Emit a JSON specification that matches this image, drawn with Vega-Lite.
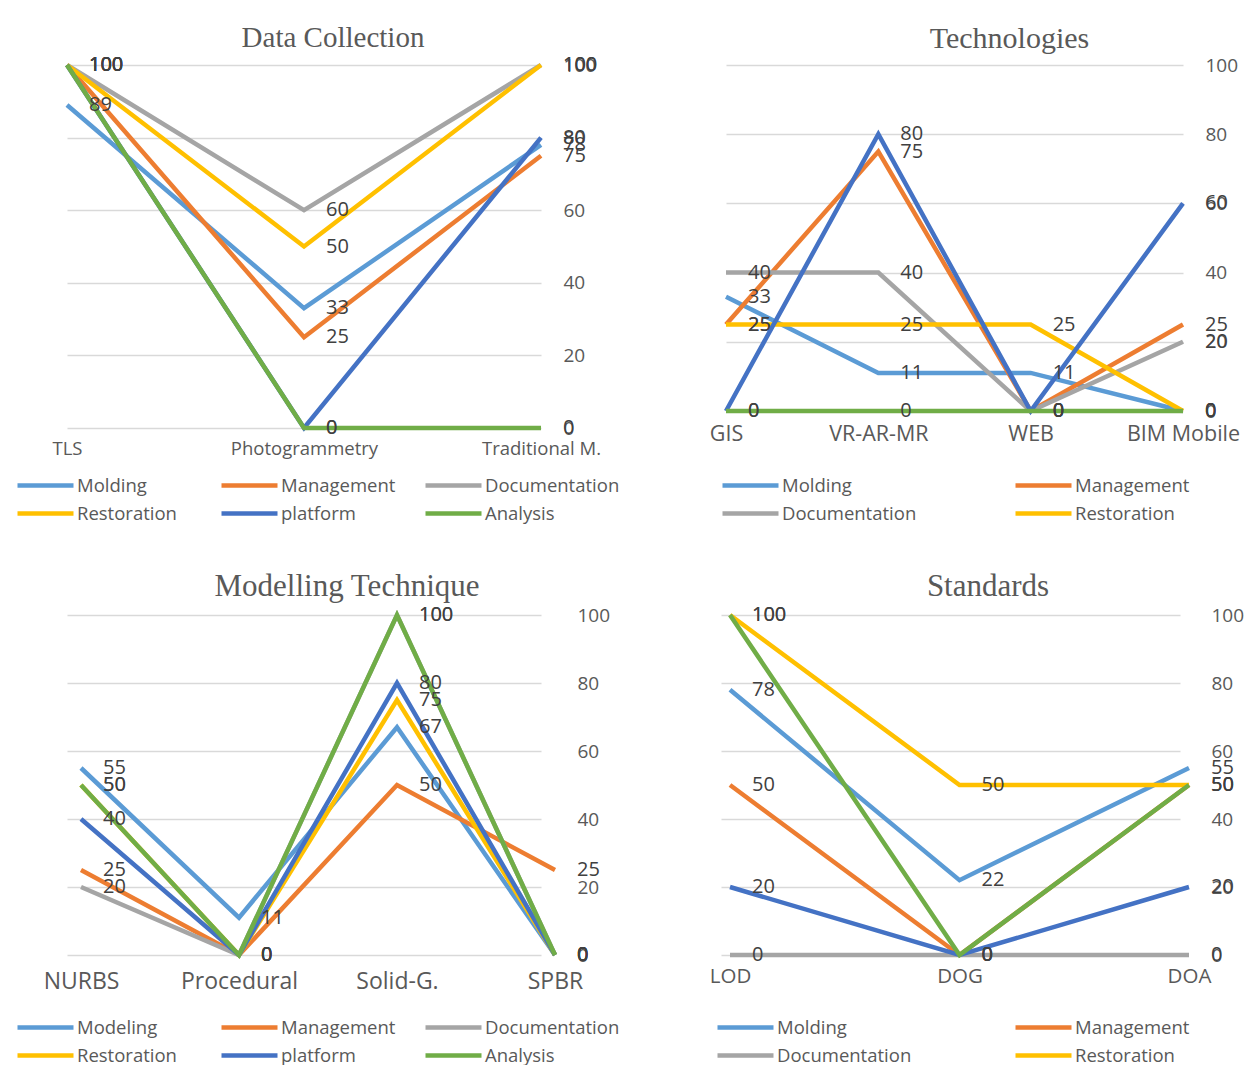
{
  "$schema": "https://vega.github.io/schema/vega-lite/v6.json",
  "background": "white",
  "padding": {"left": 43, "top": 24, "right": 0, "bottom": 0},
  "config": {
    "font": "Open Sans",
    "view": {"stroke": null},
    "axis": {"labelFont": "Open Sans", "labelColor": "#595959", "domain": false, "ticks": false, "labelOverlap": false, "labelLimit": 0},
    "axisY": {"grid": true, "gridColor": "#d9d9d9", "gridWidth": 1.5, "labelFontSize": 19, "labelPadding": 22},
    "axisX": {"grid": false, "labelAngle": 0},
    "legend": {"orient": "none", "direction": "horizontal", "symbolType": "M-6,0H2", "symbolStrokeWidth": 5, "symbolSize": 196, "labelFont": "Open Sans", "labelFontSize": 18.5, "labelColor": "#595959", "labelOffset": 8, "gridAlign": "all", "rowPadding": 9, "padding": 0, "title": null, "labelLimit": 0},
    "title": {"font": "Liberation Serif", "fontWeight": "normal", "color": "#595959", "anchor": "middle", "offset": 2},
    "line": {"strokeWidth": 4.5},
    "text": {"font": "Open Sans", "fontSize": 20, "color": "#404040", "align": "left", "baseline": "middle", "dx": 22}
  },
  "datasets": {
    "dc": [
      {"cat": "TLS", "series": "Molding", "value": 89},
      {"cat": "Photogrammetry", "series": "Molding", "value": 33},
      {"cat": "Traditional M.", "series": "Molding", "value": 78},
      {"cat": "TLS", "series": "Management", "value": 100},
      {"cat": "Photogrammetry", "series": "Management", "value": 25},
      {"cat": "Traditional M.", "series": "Management", "value": 75},
      {"cat": "TLS", "series": "Documentation", "value": 100},
      {"cat": "Photogrammetry", "series": "Documentation", "value": 60},
      {"cat": "Traditional M.", "series": "Documentation", "value": 100},
      {"cat": "TLS", "series": "Restoration", "value": 100},
      {"cat": "Photogrammetry", "series": "Restoration", "value": 50},
      {"cat": "Traditional M.", "series": "Restoration", "value": 100},
      {"cat": "TLS", "series": "platform", "value": 100},
      {"cat": "Photogrammetry", "series": "platform", "value": 0},
      {"cat": "Traditional M.", "series": "platform", "value": 80},
      {"cat": "TLS", "series": "Analysis", "value": 100},
      {"cat": "Photogrammetry", "series": "Analysis", "value": 0},
      {"cat": "Traditional M.", "series": "Analysis", "value": 0}
    ],
    "tech": [
      {"cat": "GIS", "series": "Molding", "value": 33},
      {"cat": "VR-AR-MR", "series": "Molding", "value": 11},
      {"cat": "WEB", "series": "Molding", "value": 11},
      {"cat": "BIM Mobile", "series": "Molding", "value": 0},
      {"cat": "GIS", "series": "Management", "value": 25},
      {"cat": "VR-AR-MR", "series": "Management", "value": 75},
      {"cat": "WEB", "series": "Management", "value": 0},
      {"cat": "BIM Mobile", "series": "Management", "value": 25},
      {"cat": "GIS", "series": "Documentation", "value": 40},
      {"cat": "VR-AR-MR", "series": "Documentation", "value": 40},
      {"cat": "WEB", "series": "Documentation", "value": 0},
      {"cat": "BIM Mobile", "series": "Documentation", "value": 20},
      {"cat": "GIS", "series": "Restoration", "value": 25},
      {"cat": "VR-AR-MR", "series": "Restoration", "value": 25},
      {"cat": "WEB", "series": "Restoration", "value": 25},
      {"cat": "BIM Mobile", "series": "Restoration", "value": 0},
      {"cat": "GIS", "series": "platform", "value": 0},
      {"cat": "VR-AR-MR", "series": "platform", "value": 80},
      {"cat": "WEB", "series": "platform", "value": 0},
      {"cat": "BIM Mobile", "series": "platform", "value": 60},
      {"cat": "GIS", "series": "Analysis", "value": 0},
      {"cat": "VR-AR-MR", "series": "Analysis", "value": 0},
      {"cat": "WEB", "series": "Analysis", "value": 0},
      {"cat": "BIM Mobile", "series": "Analysis", "value": 0}
    ],
    "model": [
      {"cat": "NURBS", "series": "Modeling", "value": 55},
      {"cat": "Procedural", "series": "Modeling", "value": 11},
      {"cat": "Solid-G.", "series": "Modeling", "value": 67},
      {"cat": "SPBR", "series": "Modeling", "value": 0},
      {"cat": "NURBS", "series": "Management", "value": 25},
      {"cat": "Procedural", "series": "Management", "value": 0},
      {"cat": "Solid-G.", "series": "Management", "value": 50},
      {"cat": "SPBR", "series": "Management", "value": 25},
      {"cat": "NURBS", "series": "Documentation", "value": 20},
      {"cat": "Procedural", "series": "Documentation", "value": 0},
      {"cat": "Solid-G.", "series": "Documentation", "value": 100},
      {"cat": "SPBR", "series": "Documentation", "value": 0},
      {"cat": "NURBS", "series": "Restoration", "value": 50},
      {"cat": "Procedural", "series": "Restoration", "value": 0},
      {"cat": "Solid-G.", "series": "Restoration", "value": 75},
      {"cat": "SPBR", "series": "Restoration", "value": 0},
      {"cat": "NURBS", "series": "platform", "value": 40},
      {"cat": "Procedural", "series": "platform", "value": 0},
      {"cat": "Solid-G.", "series": "platform", "value": 80},
      {"cat": "SPBR", "series": "platform", "value": 0},
      {"cat": "NURBS", "series": "Analysis", "value": 50},
      {"cat": "Procedural", "series": "Analysis", "value": 0},
      {"cat": "Solid-G.", "series": "Analysis", "value": 100},
      {"cat": "SPBR", "series": "Analysis", "value": 0}
    ],
    "std": [
      {"cat": "LOD", "series": "Molding", "value": 78},
      {"cat": "DOG", "series": "Molding", "value": 22},
      {"cat": "DOA", "series": "Molding", "value": 55},
      {"cat": "LOD", "series": "Management", "value": 50},
      {"cat": "DOG", "series": "Management", "value": 0},
      {"cat": "DOA", "series": "Management", "value": 50},
      {"cat": "LOD", "series": "Documentation", "value": 0},
      {"cat": "DOG", "series": "Documentation", "value": 0},
      {"cat": "DOA", "series": "Documentation", "value": 0},
      {"cat": "LOD", "series": "Restoration", "value": 100},
      {"cat": "DOG", "series": "Restoration", "value": 50},
      {"cat": "DOA", "series": "Restoration", "value": 50},
      {"cat": "LOD", "series": "platform", "value": 20},
      {"cat": "DOG", "series": "platform", "value": 0},
      {"cat": "DOA", "series": "platform", "value": 20},
      {"cat": "LOD", "series": "Analysis", "value": 100},
      {"cat": "DOG", "series": "Analysis", "value": 0},
      {"cat": "DOA", "series": "Analysis", "value": 50}
    ]
  },
  "resolve": {"scale": {"color": "independent", "x": "independent", "y": "independent"}, "legend": {"color": "independent"}},
  "columns": 2,
  "align": "none",
  "bounds": "full",
  "spacing": {"row": 48, "column": 89},
  "concat": [
    {
      "width": 474, "height": 363,
      "title": {"text": "Data Collection", "fontSize": 29, "dx": 29},
      "data": {"name": "dc"},
      "encoding": {
        "x": {"field": "cat", "type": "nominal", "sort": null, "scale": {"type": "point", "padding": 0}, "title": null, "axis": {"labelFontSize": 18.5, "labelPadding": 11}},
        "y": {"field": "value", "type": "quantitative", "scale": {"domain": [0, 100]}, "title": null, "axis": {"orient": "right", "values": [0, 20, 40, 60, 80, 100]}},
        "color": {"field": "series", "type": "nominal", "sort": null,
          "scale": {"domain": ["Molding", "Management", "Documentation", "Restoration", "platform", "Analysis"], "range": ["#5B9BD5", "#ED7D31", "#A5A5A5", "#FFC000", "#4472C4", "#70AD47"]},
          "legend": {"columns": 3, "columnPadding": 0, "legendX": -17, "legendY": 411}}
      },
      "layer": [
        {"mark": {"type": "line"}},
        {"mark": {"type": "text"}, "encoding": {"text": {"field": "value", "type": "quantitative"}, "color": {"value": "#404040"}}}
      ]
    },
    {
      "width": 457, "height": 346,
      "title": {"text": "Technologies", "fontSize": 30, "dx": 55},
      "data": {"name": "tech"},
      "encoding": {
        "x": {"field": "cat", "type": "nominal", "sort": null, "scale": {"type": "point", "padding": 0}, "title": null, "axis": {"labelFontSize": 21.5, "labelPadding": 12}},
        "y": {"field": "value", "type": "quantitative", "scale": {"domain": [0, 100]}, "title": null, "axis": {"orient": "right", "values": [0, 20, 40, 60, 80, 100]}},
        "color": {"field": "series", "type": "nominal", "sort": null,
          "scale": {"domain": ["Molding", "Management", "Documentation", "Restoration", "platform", "Analysis"], "range": ["#5B9BD5", "#ED7D31", "#A5A5A5", "#FFC000", "#4472C4", "#70AD47"]},
          "legend": {"columns": 2, "columnPadding": 89, "legendX": 29, "legendY": 411, "values": ["Molding", "Management", "Documentation", "Restoration"]}}
      },
      "layer": [
        {"mark": {"type": "line"}},
        {"mark": {"type": "text"}, "encoding": {"text": {"field": "value", "type": "quantitative"}, "color": {"value": "#404040"}}}
      ]
    },
    {
      "width": 488, "height": 340,
      "title": {"text": "Modelling Technique", "fontSize": 31, "dx": 36},
      "data": {"name": "model"},
      "encoding": {
        "x": {"field": "cat", "type": "nominal", "sort": null, "scale": {"type": "point", "padding": 0, "range": [14, 488]}, "title": null, "axis": {"labelFontSize": 23, "labelPadding": 15}},
        "y": {"field": "value", "type": "quantitative", "scale": {"domain": [0, 100]}, "title": null, "axis": {"orient": "right", "values": [0, 20, 40, 60, 80, 100]}},
        "color": {"field": "series", "type": "nominal", "sort": null,
          "scale": {"domain": ["Modeling", "Management", "Documentation", "Restoration", "platform", "Analysis"], "range": ["#5B9BD5", "#ED7D31", "#A5A5A5", "#FFC000", "#4472C4", "#70AD47"]},
          "legend": {"columns": 3, "columnPadding": 0, "legendX": -17, "legendY": 403}}
      },
      "layer": [
        {"mark": {"type": "line"}},
        {"mark": {"type": "text"}, "encoding": {"text": {"field": "value", "type": "quantitative"}, "color": {"value": "#404040"}}}
      ]
    },
    {
      "width": 468, "height": 340,
      "title": {"text": "Standards", "fontSize": 31, "dx": 33},
      "data": {"name": "std"},
      "encoding": {
        "x": {"field": "cat", "type": "nominal", "sort": null, "scale": {"type": "point", "padding": 0, "range": [9, 468]}, "title": null, "axis": {"labelFontSize": 20.5, "labelPadding": 11}},
        "y": {"field": "value", "type": "quantitative", "scale": {"domain": [0, 100]}, "title": null, "axis": {"orient": "right", "values": [0, 20, 40, 60, 80, 100]}},
        "color": {"field": "series", "type": "nominal", "sort": null,
          "scale": {"domain": ["Molding", "Management", "Documentation", "Restoration", "platform", "Analysis"], "range": ["#5B9BD5", "#ED7D31", "#A5A5A5", "#FFC000", "#4472C4", "#70AD47"]},
          "legend": {"columns": 2, "columnPadding": 94, "legendX": 29, "legendY": 403, "values": ["Molding", "Management", "Documentation", "Restoration"]}}
      },
      "layer": [
        {"mark": {"type": "line"}},
        {"mark": {"type": "text"}, "encoding": {"text": {"field": "value", "type": "quantitative"}, "color": {"value": "#404040"}}}
      ]
    }
  ]
}
